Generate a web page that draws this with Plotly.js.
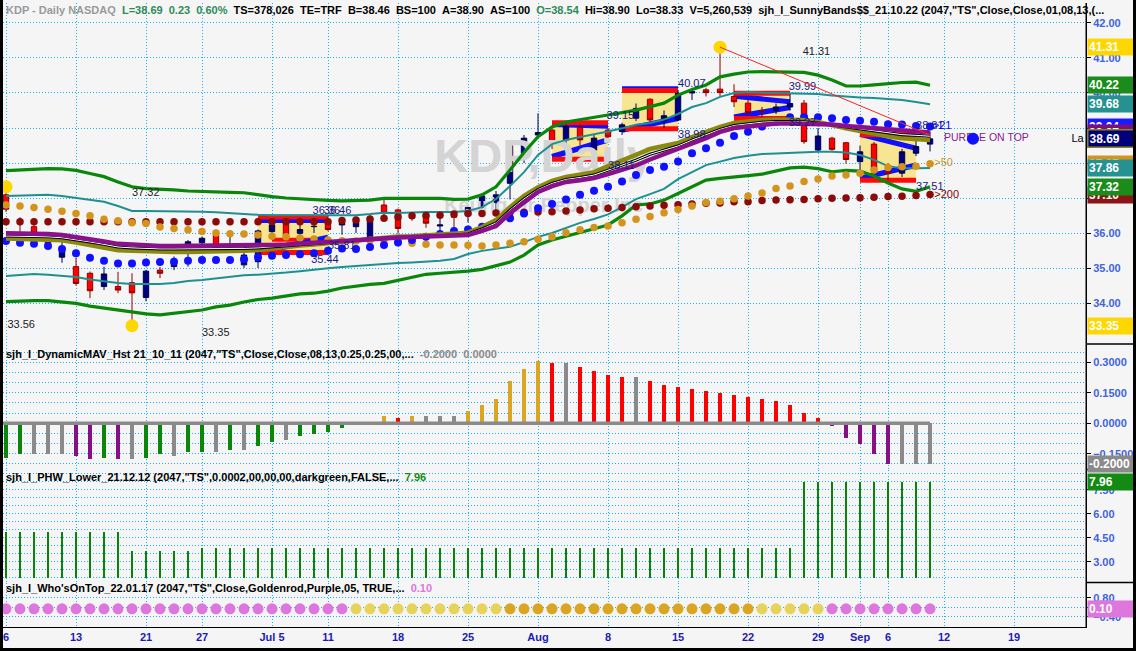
<!DOCTYPE html>
<html><head><meta charset="utf-8">
<script src="https://cdn.plot.ly/plotly-3.0.1.min.js"></script>
<style>
html,body{margin:0;padding:0;background:#000;width:1136px;height:651px;overflow:hidden;}
#chart{position:absolute;left:3px;top:0;width:1130px;height:648px;}
</style></head><body><div id="chart"></div>
<script>
// ---------- DATA ----------
const tickPos = [0,5,10,14,19,23,28,33,38,43,48,53,58,61,63,67,72];
const tickLbl = ['6','13','21','27','Jul 5','11','18','25','Aug','8','15','22','29','Sep','6','12','19'];
const priceTicks = [34,35,36,37,38,39,40,41,42];

const openP = [37.09,36.38,36.18,35.99,35.31,35.04,34.85,34.47,34.47,34.58,
 34.16,34.94,35.04,35.49,35.72,35.94,35.62,35.09,35.18,36.04,
 36.28,35.99,36.18,36.28,36.23,36.18,35.85,36.80,36.66,36.45,
 36.49,36.20,36.50,36.51,36.73,36.87,37.42,38.28,38.80,38.94,
 38.66,39.02,38.37,38.94,38.90,39.28,39.82,39.20,39.23,40.00,
 40.09,40.11,39.90,39.71,39.48,39.50,39.60,39.71,38.37,38.71,
 38.58,38.04,38.54,37.75,37.71,38.28,38.54];
const highP = [37.32,36.45,36.40,36.02,35.78,35.30,34.90,35.04,34.89,34.85,
 34.95,35.03,35.33,35.80,35.90,36.10,35.90,35.45,36.10,36.35,
 36.35,36.30,36.35,36.46,36.40,36.46,36.50,37.00,36.70,36.60,
 36.55,36.50,36.60,36.80,37.10,37.20,38.50,38.80,39.42,39.00,
 39.10,39.10,38.80,39.00,39.15,39.70,39.85,39.50,40.07,40.07,
 40.15,41.31,40.25,39.80,39.60,39.70,39.99,39.80,39.00,38.75,
 38.60,38.50,38.60,38.00,38.40,38.81,38.90];
const lowP = [36.60,36.03,35.95,35.57,35.15,34.50,34.14,34.37,34.28,33.35,
 34.05,34.71,34.94,35.04,35.65,35.50,35.45,35.00,35.00,35.85,
 35.80,35.80,36.00,36.05,35.95,36.00,35.85,36.45,35.98,36.35,
 36.15,35.95,35.95,36.30,36.70,36.50,36.96,38.00,38.75,38.40,
 38.40,38.50,38.20,38.70,38.80,39.20,39.15,39.00,39.20,39.80,
 39.90,39.90,39.60,39.35,39.30,39.40,39.50,38.55,38.30,38.35,
 37.98,37.80,37.60,37.51,37.60,38.20,38.33];
const closeP = [36.68,36.36,35.99,35.69,35.47,34.56,34.35,34.83,34.37,34.29,
 34.91,34.85,35.18,35.75,35.85,35.53,35.64,35.37,36.06,36.23,
 35.91,36.10,36.19,36.10,36.30,36.40,36.42,36.57,36.13,36.43,
 36.28,36.23,36.45,36.73,37.06,37.09,38.49,38.71,38.87,38.54,
 39.04,38.66,38.71,38.75,39.09,39.56,39.23,39.35,39.99,40.04,
 40.01,40.01,39.75,39.44,39.47,39.60,39.70,38.61,38.77,38.39,
 38.10,38.32,37.80,37.70,38.32,38.47,38.69];

const upperGreen = [37.78,37.80,37.83,37.84,37.83,37.79,37.70,37.61,37.46,37.32,
 37.27,37.26,37.23,37.20,37.18,37.17,37.16,37.15,37.09,37.04,
 37.00,36.97,36.94,36.93,36.92,36.92,36.94,36.99,36.99,36.99,
 36.99,36.99,36.96,36.97,37.09,37.32,37.80,38.30,38.75,39.03,
 39.17,39.23,39.29,39.37,39.44,39.51,39.61,39.71,39.94,40.10,
 40.23,40.46,40.54,40.60,40.61,40.61,40.61,40.59,40.51,40.37,
 40.20,40.20,40.23,40.27,40.30,40.31,40.22];
const upperTeal = [37.06,37.07,37.09,37.09,37.06,37.01,36.96,36.89,36.77,36.63,
 36.63,36.63,36.62,36.61,36.61,36.59,36.56,36.54,36.52,36.51,
 36.51,36.51,36.51,36.51,36.51,36.51,36.54,36.58,36.57,36.59,
 36.60,36.60,36.60,36.63,36.74,36.97,37.34,37.74,38.23,38.54,
 38.66,38.74,38.81,38.90,38.99,39.09,39.14,39.24,39.40,39.60,
 39.71,39.89,40.00,40.03,40.01,40.00,39.99,39.98,39.97,39.93,
 39.89,39.87,39.86,39.84,39.80,39.74,39.68];
const lowerTeal = [34.77,34.80,34.83,34.81,34.77,34.74,34.67,34.61,34.57,34.54,
 34.54,34.54,34.57,34.63,34.66,34.71,34.76,34.79,34.81,34.83,
 34.87,34.91,34.94,34.99,35.03,35.06,35.10,35.12,35.14,35.16,
 35.18,35.21,35.26,35.40,35.49,35.54,35.61,35.74,35.89,36.00,
 36.14,36.29,36.40,36.53,36.74,36.97,37.11,37.26,37.54,37.74,
 37.94,38.04,38.14,38.21,38.26,38.27,38.29,38.31,38.32,38.32,
 38.30,38.23,38.09,37.91,37.85,37.85,37.86];
const lowerGreen = [34.04,34.06,34.07,34.07,34.03,33.99,33.91,33.85,33.79,33.74,
 33.69,33.66,33.71,33.75,33.80,33.89,33.94,34.03,34.10,34.14,
 34.20,34.26,34.28,34.34,34.43,34.49,34.53,34.56,34.64,34.72,
 34.82,34.85,34.87,34.91,34.96,35.06,35.17,35.37,35.66,35.80,
 35.91,36.00,36.11,36.23,36.49,36.80,36.83,36.94,37.13,37.31,
 37.51,37.56,37.61,37.64,37.68,37.78,37.86,37.88,37.84,37.75,
 37.79,37.77,37.63,37.43,37.26,37.19,37.32];
const purpleMA = [35.99,35.99,35.98,35.97,35.94,35.89,35.83,35.76,35.69,35.66,
 35.64,35.63,35.63,35.63,35.63,35.63,35.63,35.63,35.64,35.66,
 35.67,35.69,35.71,35.73,35.77,35.80,35.82,35.84,35.87,35.88,
 35.89,35.90,35.91,35.94,36.06,36.20,36.57,36.89,37.17,37.34,
 37.46,37.51,37.57,37.68,37.80,37.93,38.10,38.25,38.40,38.57,
 38.71,38.89,39.00,39.04,39.10,39.13,39.13,39.13,39.11,39.10,
 39.06,39.03,38.99,38.94,38.91,38.90,38.87];
const oliveMA = [35.84,35.83,35.83,35.81,35.79,35.73,35.66,35.59,35.51,35.49,
 35.47,35.46,35.46,35.46,35.46,35.46,35.47,35.49,35.51,35.56,
 35.60,35.64,35.67,35.71,35.76,35.81,35.84,35.87,35.90,35.91,
 35.93,35.94,35.97,36.01,36.17,36.37,36.74,37.06,37.31,37.49,
 37.60,37.66,37.74,37.91,38.06,38.23,38.40,38.49,38.57,38.74,
 38.89,39.03,39.14,39.19,39.23,39.24,39.24,39.23,39.17,39.07,
 38.99,38.91,38.83,38.76,38.71,38.68,38.66];
const ma21 = [35.77,35.72,35.69,35.63,35.54,35.42,35.29,35.21,35.13,35.13,
 35.16,35.17,35.18,35.21,35.23,35.23,35.23,35.25,35.31,35.35,
 35.37,35.39,35.42,35.49,35.56,35.54,35.60,35.66,35.73,35.80,
 35.89,35.97,36.06,36.10,36.18,36.30,36.42,36.56,36.71,36.83,
 36.96,37.09,37.21,37.32,37.47,37.66,37.80,37.89,38.04,38.28,
 38.42,38.58,38.77,38.89,39.04,39.18,39.31,39.31,39.31,39.28,
 39.23,39.21,39.18,39.11,39.10,39.06,39.04];
const ma50 = [36.80,36.77,36.73,36.68,36.62,36.56,36.49,36.39,36.35,36.29,
 36.27,36.17,36.13,36.09,36.04,36.00,35.98,35.97,35.94,35.91,
 35.89,35.86,35.83,35.80,35.78,35.77,35.79,35.80,35.75,35.71,
 35.68,35.66,35.66,35.65,35.63,35.66,35.71,35.75,35.82,35.89,
 36.01,36.09,36.16,36.20,36.29,36.39,36.47,36.58,36.67,36.77,
 36.87,36.91,36.98,37.06,37.14,37.27,37.34,37.47,37.54,37.63,
 37.66,37.71,37.80,37.87,37.89,37.91,37.98];
const ma200 = [36.32,36.32,36.32,36.32,36.32,36.32,36.32,36.32,36.32,36.32,
 36.32,36.32,36.32,36.32,36.32,36.32,36.32,36.32,36.32,36.32,
 36.32,36.32,36.32,36.32,36.36,36.37,36.40,36.42,36.46,36.49,
 36.50,36.51,36.54,36.56,36.56,36.57,36.59,36.59,36.60,36.61,
 36.63,36.66,36.69,36.71,36.73,36.75,36.77,36.79,36.81,36.83,
 36.85,36.86,36.89,36.89,36.93,36.94,36.95,36.96,36.98,36.99,
 37.00,37.01,37.02,37.04,37.05,37.07,37.10];

// Sunny-band boxes
const boxStart = [18, 39, 44, 52, 61];
const boxEnd   = [23, 43, 48, 56, 65];
const boxTop   = [36.46, 39.15, 40.07, 39.99, 38.81];
const boxBot   = [35.44, 38.11, 38.98, 39.27, 37.51];
const blueTopA = [36.36, 39.10, 40.12, 39.91, 38.82];
const blueTopB = [36.36, 39.05, 40.12, 39.75, 38.42];
const blueBotA = [35.44, 38.18, 38.94, 39.31, 37.56];
const blueBotB = [35.87, 38.66, 39.28, 39.59, 37.94];
const boxMid   = [35.81, null, null, null, null];

// swing points and trend line
const swingIdx = [0, 9, 51];
const swingVal = [37.32, 33.35, 41.31];
const trendIdx = [51, 66];
const trendVal = [41.31, 38.80];

// price labels on chart
const lblTxt = ['37.32','33.56','33.35','41.31','36.36','36.46','35.81','35.44','39.15','38.11','40.07','38.98','39.99','39.27','38.81','>21','37.51','>50','>200','PURPLE ON TOP','La'];
const lblIdx = [9.0, 0.1, 14.0, 56.9, 21.9, 22.7, 23.0, 21.8, 42.9, 43.0, 48.0, 48.0, 55.9, 55.9, 65.0, 66.2, 65.0, 66.3, 66.3, 67.0, 76.1];
const lblVal = [37.14, 33.37, 33.14, 41.17, 36.63, 36.63, 35.63, 35.23, 39.34, 37.91, 40.26, 38.80, 40.17, 39.14, 39.06, 39.06, 37.31, 38.00, 37.09, 38.69, 38.69];
const lblCol = ['#222','#222','#222','#222','#1a1a7a','#1a1a7a','#1a1a7a','#1a1a7a','#1a1a7a','#1a1a7a','#1a1a7a','#1a1a7a','#1a1a7a','#1a1a7a','#1a1a7a','#0000ff','#1a1a7a','#d4941c','#8b0000','#8b1a8b','#000'];

// DynamicMAV histogram
const mavVal = [-0.169,-0.149,-0.149,-0.149,-0.149,-0.160,-0.178,-0.169,-0.178,-0.178,
 -0.169,-0.149,-0.160,-0.141,-0.141,-0.141,-0.129,-0.129,-0.111,-0.092,
 -0.080,-0.062,-0.053,-0.041,-0.021,-0.004,0.003,0.036,0.025,0.036,
 0.036,0.036,0.036,0.062,0.090,0.118,0.208,0.267,0.308,0.298,
 0.298,0.278,0.257,0.237,0.228,0.228,0.207,0.187,0.179,0.167,
 0.157,0.149,0.138,0.128,0.118,0.108,0.089,0.051,0.026,-0.013,
 -0.072,-0.103,-0.152,-0.200,-0.200,-0.200,-0.200];
const mavCode = 'GGSSSPPGPS' + 'GGSGGSGSGG' + 'SGGGGGOORO' + 'SSSOOOOOOR' + 'SRRRRSRRRR' + 'RRRRRRRRRP' + 'PPPPSSS';

// PHW lower
const phwVal = [4.88,4.88,4.88,4.88,4.88,4.88,4.88,4.88,4.88,3.67,
 3.67,3.67,3.67,3.67,3.84,3.84,3.84,3.84,3.84,3.84,
 3.84,3.84,3.84,3.84,3.84,3.84,3.84,3.84,3.84,3.84,
 3.84,3.84,3.84,3.84,3.84,3.84,3.84,3.84,3.84,3.84,
 3.84,3.84,3.84,3.84,3.84,3.84,3.84,3.84,3.84,3.84,
 3.84,3.84,3.84,3.84,3.84,3.84,3.84,7.96,7.96,7.96,
 7.96,7.96,7.96,7.96,7.96,7.96,7.96];

// Who's on top
const wotVal = [0.10,0.10,0.10,0.10,0.10,0.10,0.10,0.10,0.10,0.10,
 0.10,0.10,0.10,0.10,0.10,0.10,0.10,0.10,0.10,0.10,
 0.10,0.10,0.10,0.10,0.10,0.10,0.10,0.10,0.10,0.10,
 0.10,0.10,0.10,0.10,0.10,0.10,0.10,0.10,0.10,0.10,
 0.10,0.10,0.10,0.10,0.10,0.10,0.10,0.10,0.10,0.10,
 0.10,0.10,0.10,0.10,0.10,0.10,0.10,0.10,0.10,0.10,
 0.10,0.10,0.10,0.10,0.10,0.10,0.10];
const wotCode = 'PPPPPPPPPP' + 'PPPPPPPPPP' + 'PPPPPYYYYY' + 'YYYYYYGGGG' + 'GGGGGGGGGG' + 'GGGGYYYYYP' + 'PPPPPPP';

// right-edge value flags
const flagAxis = ['y','y','y','y','y','y','y','y','y','y','y','y2','y3','y4'];
const flagVal  = [41.31, 40.22, 39.68, 39.04, 38.87, 38.69, 37.97, 37.86, 37.10, 37.32, 33.35, -0.2, 7.96, 0.10];
const flagDec  = [2,2,2,2,2,2,2,2,2,2,2,4,2,2];
const flagBg   = ['#ffd700','#1b8c1b','#259191','#1a1aff','#7a107a','#00007a','#d4941c','#259191','#8b1414','#1b8c1b','#ffd700','#8a8a8a','#138a13','#dd77dd'];

// ---------- BUILD ----------
const idx = openP.map((_, i) => i);
const gridC = '#1ab4f5';
const gridDash = '1px,2px';
const colMap = {G:'#0a870a', S:'#8a8a8a', P:'#860f86', O:'#daa520', R:'#ff0000'};
const wotMap = {P:'#dd77dd', Y:'#e8d35a', G:'#daa520'};
const mid = purpleMA.map((v, i) => (v + oliveMA[i]) / 2);

function line(y, color, width) {
  return {type:'scatter', mode:'lines', x: idx, y: y, xaxis:'x', yaxis:'y',
    line:{color: color, width: width}, hoverinfo:'skip'};
}
function dots(y, color, size) {
  return {type:'scatter', mode:'markers', x: idx, y: y, xaxis:'x', yaxis:'y',
    marker:{color: color, size: size}, hoverinfo:'skip'};
}

const traces = [
  {type:'scatter', mode:'text', x:[38.4], y:[38.09], text:['KDP,Daily'], xaxis:'x', yaxis:'y',
   textfont:{family:'Arial', size:47, color:'#d4d4d4', weight:'bold'}, hoverinfo:'skip'},
  {type:'scatter', mode:'text', x:[38.4], y:[36.74], text:['Keurig Dr Pepper Inc'], xaxis:'x', yaxis:'y',
   textfont:{family:'Arial', size:20, color:'#d4d4d4', weight:'bold'}, hoverinfo:'skip'},
  line(upperGreen, '#0a870a', 3.2),
  line(lowerGreen, '#0a870a', 3.2),
  line(upperTeal, '#1f9090', 2),
  line(lowerTeal, '#1f9090', 2),
  dots(ma200, '#8b0a0a', 7.5),
  dots(ma50, '#d4941c', 7.5),
  dots(ma21, '#1010ff', 8),
  line(oliveMA, '#8a8a10', 4.5),
  line(mid, '#000', 3),
  line(mid, '#fff', 1),
  line(purpleMA, '#8b108b', 4.5),
  {type:'candlestick', x: idx, open: openP, high: highP, low: lowP, close: closeP, xaxis:'x', yaxis:'y',
   increasing:{line:{color:'#00004a', width:1}, fillcolor:'#000080'},
   decreasing:{line:{color:'#8a0000', width:1}, fillcolor:'#ff0000'},
   whiskerwidth:0, hoverinfo:'skip'},
  {type:'scatter', mode:'markers', x: swingIdx, y: swingVal, xaxis:'x', yaxis:'y',
   marker:{color:'#ffd700', size:13}, hoverinfo:'skip'},
  {type:'scatter', mode:'text', x: lblIdx, y: lblVal, text: lblTxt, textposition:'middle right', xaxis:'x', yaxis:'y',
   textfont:{family:'Arial', size: lblTxt.map(t => t.length > 6 ? 10.5 : 11), color: lblCol}, hoverinfo:'skip', cliponaxis:false},
  {type:'scatter', mode:'markers', x:[69.07], y:[38.69], xaxis:'x', yaxis:'y',
   marker:{color:'#1010ff', size:12}, hoverinfo:'skip'},
  // pane 2
  {type:'bar', x: idx, y: mavVal, xaxis:'x', yaxis:'y2', width:0.22,
   marker:{color: mavCode.split('').map(c => colMap[c]), line:{width:0}}, hoverinfo:'skip'},
  {type:'scatter', mode:'lines', x:[-0.3, idx[idx.length-1]], y:[0, 0], xaxis:'x', yaxis:'y2',
   line:{color:'#8a8a8a', width:3.5}, hoverinfo:'skip'},
  // pane 3
  {type:'bar', x: idx, y: phwVal.map(v => v - 1.96), base: 1.96, xaxis:'x', yaxis:'y3', width:0.15,
   marker:{color:'#0a820a', line:{width:0}}, hoverinfo:'skip'},
  // pane 4
  {type:'scatter', mode:'markers', x: idx, y: wotVal, xaxis:'x', yaxis:'y4',
   marker:{color: wotCode.split('').map(c => wotMap[c]), size:11}, hoverinfo:'skip'}
];

// shapes
const shapes = [];
boxStart.forEach((s, k) => {
  const e = boxEnd[k];
  shapes.push({type:'rect', xref:'x', yref:'y', x0:s, x1:e, y0:boxBot[k], y1:boxTop[k],
    fillcolor:'#f8e592', line:{width:0}, layer:'between'});
  shapes.push({type:'line', xref:'x', yref:'y', x0:s, x1:e, y0:blueTopA[k], y1:blueTopB[k],
    line:{color:'#1010ff', width:5}, layer:'between'});
  shapes.push({type:'line', xref:'x', yref:'y', x0:s, x1:e, y0:boxTop[k], y1:boxTop[k],
    line:{color:'#ff0a0a', width:5}, layer:'between'});
  if (boxMid[k] !== null) {
    shapes.push({type:'line', xref:'x', yref:'y', x0:s + 1, x1:e - 0.4, y0:boxMid[k], y1:boxMid[k],
      line:{color:'#ff0a0a', width:4}, layer:'between'});
  }
  shapes.push({type:'line', xref:'x', yref:'y', x0:s, x1:e, y0:blueBotA[k], y1:blueBotB[k],
    line:{color:'#1010ff', width:5.5}, layer:'between'});
  shapes.push({type:'line', xref:'x', yref:'y', x0:s, x1:e, y0:boxBot[k], y1:boxBot[k],
    line:{color:'#ff0a0a', width:5}, layer:'between'});
});
shapes.push({type:'line', xref:'x', yref:'y', x0:trendIdx[0], x1:trendIdx[1], y0:trendVal[0], y1:trendVal[1],
  line:{color:'#ff2020', width:1}, layer:'above'});
// pane separators on the price scale
[0.4535, 0.2524, 0.0713].forEach(p => {
  shapes.push({type:'line', xref:'paper', yref:'paper', x0:1, x1:1.05, y0:p, y1:p, line:{color:'#000', width:1.5}});
});
shapes.push({type:'line', xref:'paper', yref:'paper', x0:1, x1:1, y0:0, y1:1, line:{color:'#000', width:1}});

// annotations
const nb = '\u00a0';
const sp2 = nb + nb;
const ann = [];
ann.push({xref:'paper', yref:'paper', x:0.0005, y:0.9888, xanchor:'left', yanchor:'middle', showarrow:false,
  font:{family:'Arial', size:11, color:'#000'},
  text:'<b><span style="color:#9a9a9a">KDP - Daily' + nb + 'NASDAQ</span>' + sp2 +
    '<span style="color:#2e8b57">L=38.69' + sp2 + '0.23' + sp2 + '0.60%</span>' + sp2 +
    'TS=378,026' + sp2 + 'TE=TRF' + sp2 + 'B=38.46' + sp2 + 'BS=100' + sp2 + 'A=38.90' + sp2 + 'AS=100' + sp2 +
    '<span style="color:#2e8b57">O=38.54</span>' + sp2 + 'Hi=38.90' + sp2 + 'Lo=38.33' + sp2 + 'V=5,260,539' + sp2 +
    'sjh_I_SunnyBands$$_21.10.22 (2047,"TS",Close,Close,01,08,13,(...</b>'});
ann.push({xref:'paper', yref:'paper', x:0.0005, y:0.4375, xanchor:'left', yanchor:'middle', showarrow:false,
  font:{family:'Arial', size:11, color:'#000'},
  text:'<b>sjh_I_DynamicMAV_Hst 21_10_11 (2047,"TS",Close,Close,08,13,0.25,0.25,00,...' + sp2 +
    '<span style="color:#8a8a8a">-0.2000' + sp2 + '0.0000</span></b>'});
ann.push({xref:'paper', yref:'paper', x:0.0005, y:0.2404, xanchor:'left', yanchor:'middle', showarrow:false,
  font:{family:'Arial', size:11, color:'#000'},
  text:'<b>sjh_I_PHW_Lower_21.12.12 (2047,"TS",0.0002,00,00,00,darkgreen,FALSE,...' + sp2 +
    '<span style="color:#138a13">7.96</span></b>'});
ann.push({xref:'paper', yref:'paper', x:0.0005, y:0.0625, xanchor:'left', yanchor:'middle', showarrow:false,
  font:{family:'Arial', size:11, color:'#000'},
  text:'<b>sjh_I_Who\'sOnTop_22.01.17 (2047,"TS",Close,Goldenrod,Purple,05, TRUE,...' + sp2 +
    '<span style="color:#dd77dd">0.10</span></b>'});
flagVal.forEach((v, k) => {
  const a = {xref:'paper', yref: flagAxis[k], x:1.0012, y:v, xanchor:'left', yanchor:'middle', showarrow:false,
    text:'<b>' + v.toFixed(flagDec[k]) + '</b>', bgcolor: flagBg[k], font:{family:'Arial', size:12, color:'#fff'},
    borderpad:1, width:44, align:'left'};
  if (v === 38.69) { a.bordercolor = '#8a8a10'; a.borderwidth = 1.5; }
  ann.push(a);
});

const axBase = {side:'right', anchor:'x', showline:true, linecolor:'#000', linewidth:1, ticks:'outside', ticklen:4,
  tickcolor:'#000', zeroline:false, showgrid:true, gridcolor:gridC, griddash:gridDash, gridwidth:1, fixedrange:true,
  tickfont:{family:'Arial', size:11, color:'#4063e0', weight:'bold'}};

const layout = {
  width:1130, height:648,
  margin:{l:0, r:47, t:3, b:21},
  paper_bgcolor:'#f5f5f5', plot_bgcolor:'#f5f5f5',
  showlegend:false, hovermode:false, boxgap:0.45, bargap:0,
  font:{family:'Arial'},
  xaxis:{domain:[0,1], range:[-0.214, 77.14], anchor:'y4', tickmode:'array', tickvals:tickPos, ticktext:tickLbl,
    showgrid:true, gridcolor:gridC, griddash:gridDash, gridwidth:1, showline:true, linecolor:'#000', ticks:'',
    ticklabeloverflow:'allow',
    tickfont:{family:'Arial', size:11, color:'#1c1cb4', weight:'bold'}, rangeslider:{visible:false}, zeroline:false, fixedrange:true},
  yaxis: Object.assign({}, axBase, {domain:[0.4551, 1], range:[32.857, 42.571], tickmode:'array', tickvals:priceTicks, tickformat:'.2f'}),
  yaxis2: Object.assign({}, axBase, {domain:[0.2532, 0.4519], range:[-0.2248, 0.3851], tickmode:'array',
    tickvals:[-0.15, 0, 0.15, 0.3], tickformat:'.4f',
    minor:{tickmode:'linear', tick0:0, dtick:0.05, showgrid:true, gridcolor:gridC, griddash:gridDash, ticklen:0}}),
  yaxis3: Object.assign({}, axBase, {domain:[0.0721, 0.2516], range:[1.731, 8.731], tickmode:'array',
    tickvals:[3, 4.5, 6, 7.5], tickformat:'.2f',
    minor:{tickmode:'linear', tick0:0, dtick:0.5, showgrid:true, gridcolor:gridC, griddash:gridDash, ticklen:0}}),
  yaxis4: Object.assign({}, axBase, {domain:[0, 0.0705], range:[-1.052, 1.729], tickmode:'array',
    tickvals:[-0.4, 0.2, 0.8], tickformat:'.2f'}),
  shapes: shapes,
  annotations: ann
};

Plotly.newPlot('chart', traces, layout, {displayModeBar:false, staticPlot:true});
</script>
</body></html>
